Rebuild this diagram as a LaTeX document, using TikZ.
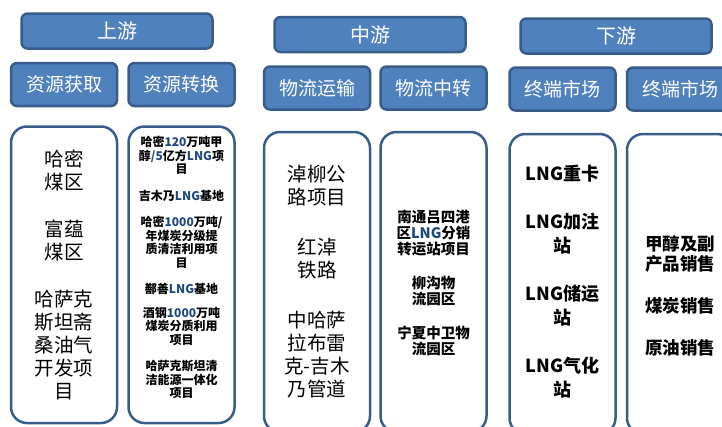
\documentclass[tikz,border=0pt]{standalone}
\usepackage{fontspec}
\setmainfont{Noto Sans CJK SC}
\usepackage{tikz}
\usetikzlibrary{positioning}
\usepackage{xcolor}
\definecolor{hdrfill}{RGB}{79,129,189}
\definecolor{hdrline}{RGB}{56,93,138}
\definecolor{numblue}{RGB}{31,73,125}
\newcommand{\lat}[1]{\textcolor{numblue}{#1}}

\begin{document}
\begin{tikzpicture}[
    x=1pt, y=-1pt,
    node distance=18pt and 9pt,
    head/.style={draw=hdrline, line width=2.5pt, fill=hdrfill, text=white, rounded corners=6pt,
      minimum width=191pt, minimum height=35pt, inner sep=0pt, font=\fontsize{20}{24}\selectfont},
    sub/.style={head, minimum width=106pt, minimum height=43pt, font=\fontsize{19}{23}\selectfont},
    panel/.style={draw=hdrline, line width=2.5pt, fill=white, rounded corners=16pt,
      minimum width=106pt, minimum height=300pt, inner sep=0pt},
    body/.style={align=center, inner sep=0pt, text=black},
    songtxt/.style={body, font=\fontsize{19.5}{23}\selectfont},
    smalltxt/.style={body, font=\bfseries\fontsize{12}{13.5}\selectfont},
    midtxt/.style={body, font=\bfseries\fontsize{14.5}{16}\selectfont},
    bigtxt/.style={body, font=\bfseries\fontsize{18}{24}\selectfont},
    saletxt/.style={body, font=\bfseries\fontsize{17.5}{20}\selectfont}
  ]
  \useasboundingbox (0,0) rectangle (722,426);

  % Stage headers
  \node[head] (up) at (117,31) {上游};
  \node[head] (midstream) at (370,34.5) {中游};
  \node[head] (down) at (616,36) {下游};

  % Sub headers
  \node[sub] (src1) at (64,84.5) {资源获取};
  \node[sub, right=of src1] (src2) {资源转换};
  \node[sub] (log1) at (317,88) {物流运输};
  \node[sub, right=8pt of log1] (log2) {物流中转};
  \node[sub] (end1) at (562.5,89) {终端市场};
  \node[sub, right=of end1] (end2) {终端市场};

  % Panels
  \node[panel, minimum height=296.5pt, below=of src1] (coal) {};
  \node[panel, minimum height=296.5pt, below=of src2] (conv) {};
  \node[panel, below=20pt of log1] (road) {};
  \node[panel, below=20pt of log2] (hub) {};
  \node[panel, below=21pt of end1] (lng) {};
  \node[panel, below=21pt of end2] (sale) {};

  % Panel texts
  \node[songtxt] (coaltxt) at (coal.center) {哈密\\煤区\\[24pt]富蕴\\煤区\\[24pt]哈萨克\\斯坦斋\\桑油气\\开发项\\目};
  \node[smalltxt] (convtxt) at ([yshift=7pt]conv.center) {哈密\lat{120}万吨甲\\醇\lat{/5}亿方\lat{LNG}项\\目\\[13pt]吉木乃\lat{LNG}基地\\[13pt]哈密\lat{1000}万吨/\\年煤炭分级提\\质清洁利用项\\目\\[13pt]鄯善\lat{LNG}基地\\[10pt]酒钢\lat{1000}万吨\\煤炭分质利用\\项目\\[13pt]哈萨克斯坦清\\洁能源一体化\\项目};
  \node[songtxt] (roadtxt) at (road.center) {淖柳公\\路项目\\[27pt]红淖\\铁路\\[27pt]中哈萨\\拉布雷\\克-吉木\\乃管道};
  \node[midtxt] (hubtxt) at ([yshift=-1pt]hub.center) {南通吕四港\\区\lat{LNG}分销\\转运站项目\\[18pt]柳沟物\\流园区\\[18pt]宁夏中卫物\\流园区};
  \node[bigtxt] (lngtxt) at ([yshift=2pt]lng.center) {LNG重卡\\[24pt]LNG加注\\站\\[24pt]LNG储运\\站\\[24pt]LNG气化\\站};
  \node[saletxt] (saletxt) at ([yshift=-12pt]sale.center) {甲醇及副\\产品销售\\[22pt]煤炭销售\\[22pt]原油销售};

\end{tikzpicture}
\end{document}
